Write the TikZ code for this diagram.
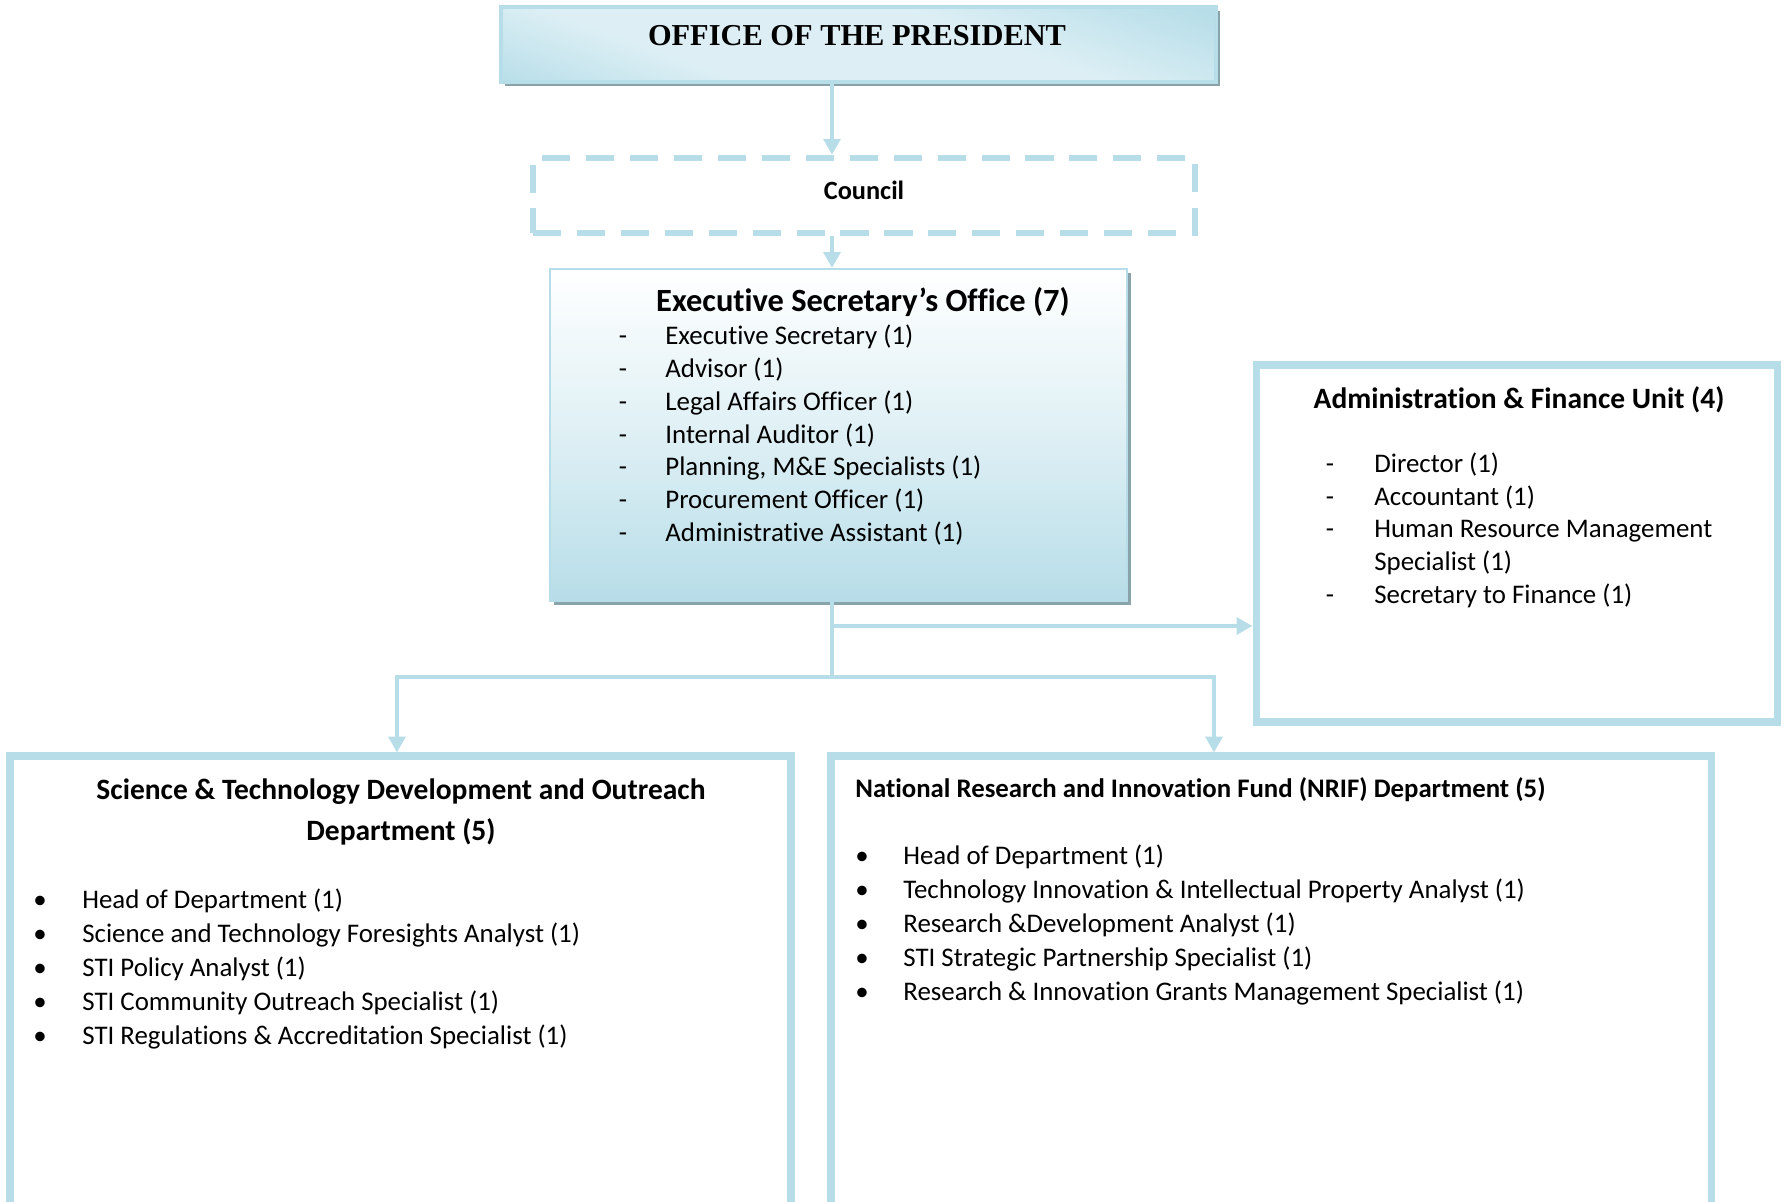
\documentclass[tikz,border=0pt]{standalone}
\usepackage{fontspec}
\setmainfont{Carlito}[Ligatures=NoCommon]
\newfontfamily\presfont{Liberation Serif}
\usetikzlibrary{arrows.meta,positioning,fit,shadows}

\definecolor{aqua}{HTML}{B7DDE8}
\definecolor{aquadark}{HTML}{92CDDC}
\definecolor{aqualight}{HTML}{DDEFF5}
\definecolor{shadowgray}{HTML}{8AA3AB}
\pgfdeclarehorizontalshading{presshade}{100bp}{color(0bp)=(aquadark); color(35bp)=(aqualight); color(60bp)=(aqualight); color(100bp)=(aquadark)}

\begin{document}
\begin{tikzpicture}
[x=0.02cm,y=-0.02cm,line join=miter,
% Styles
box/.style={inner sep=0pt,draw=aqua,line width=3.6pt},
president/.style={box,line width=1.8pt,shading=presshade,shading angle=70,
  drop shadow={shadow xshift=2pt,shadow yshift=-2.5pt,fill=shadowgray,opacity=1}},
council box/.style={box,line width=3.7pt,dash pattern=on 16pt off 9pt},
exec box/.style={box,line width=1.2pt,top color=white,bottom color=aqua,middle color=aqua!45,
  drop shadow={shadow xshift=2pt,shadow yshift=-2.5pt,fill=shadowgray,opacity=1}},
dept box/.style={box,line width=4pt,fill=white},
title/.style={inner sep=0pt,font=\bfseries\fontsize{18.45}{22}\selectfont},
item/.style={inner sep=0pt,anchor=base west,font=\fontsize{15.3}{18}\selectfont},
mark item/.style={inner sep=0pt,anchor=base,font=\fontsize{15.3}{18}\selectfont},
link/.style={draw=aqua,line width=2.7pt},
tip/.style={-{Triangle[length=9pt,width=9.5pt]}}]
\clip (0,0) rectangle (1785,1202);
% Boxes
\node[president,fit={(501,7) (1216,82)}] (pres) {};
\node[council box,fit={(533,158) (1195,233)}] (council) {};
\node[exec box,fit={(550,269) (1127,601)}] (exec) {};
\node[dept box,fit={(1256,365) (1777,722)}] (admin) {};
\node[dept box,fit={(10,756) (791,1240)}] (stdo) {};
\node[dept box,fit={(831,756) (1711,1240)}] (nrif) {};
% Titles
\node[inner sep=0pt,font=\presfont\bfseries\fontsize{17.3}{20}\selectfont] (pres title) at (857,36) {OFFICE OF THE PRESIDENT};
\node[title,font=\bfseries\fontsize{15}{18}\selectfont] (council title) at (864,190) {Council};
\node[title] (exec title) at (863,302.5) {Executive Secretary’s Office (7)};
\node[title,font=\bfseries\fontsize{16.8}{20}\selectfont] (admin title) at (1519,400) {Administration \& Finance Unit (4)};
\node[title,align=center,font=\bfseries\fontsize{16.8}{23.2}\selectfont] (stdo title) at (401,812)
  {Science \& Technology Development and Outreach\\Department (5)};
\node[title,anchor=west,font=\bfseries\fontsize{15.25}{18}\selectfont] (nrif title) at (855,790)
  {National Research and Innovation Fund (NRIF) Department (5)};
% Staff lists
\foreach \t [count=\i from 0] in {Executive Secretary (1), Advisor (1), Legal Affairs Officer (1),
  Internal Auditor (1), {Planning, M\&E Specialists (1)}, Procurement Officer (1), Administrative Assistant (1)}
{
  \node[mark item] (es mark \i) at (623,{345+32.7*\i}) {-};
  \node[item] (es \i) at (665,{345+32.7*\i}) {\t};
}
\foreach \d/\t [count=\i from 0] in {-/Director (1), -/Accountant (1), -/Human Resource Management,
  /Specialist (1), -/Secretary to Finance (1)}
{
  \node[mark item] (af mark \i) at (1330,{473+32.5*\i}) {\d};
  \node[item] (af \i) at (1374,{473+32.5*\i}) {\t};
}
\foreach \t [count=\i from 0] in {Head of Department (1), Science and Technology Foresights Analyst (1),
  STI Policy Analyst (1), STI Community Outreach Specialist (1), STI Regulations \& Accreditation Specialist (1)}
{
  \node[mark item] (st mark \i) at (40,{908+34*\i}) {•};
  \node[item] (st \i) at (82,{908+34*\i}) {\t};
}
\foreach \t [count=\i from 0] in {Head of Department (1), Technology Innovation \& Intellectual Property Analyst (1),
  Research \&Development Analyst (1), STI Strategic Partnership Specialist (1),
  Research \& Innovation Grants Management Specialist (1)}
{
  \node[mark item] (nr mark \i) at (862,{864+34.2*\i}) {•};
  \node[item] (nr \i) at (903,{864+34.2*\i}) {\t};
}
% Connectors
\coordinate (trunk) at (832,677);
\coordinate (tap) at (832,626);
\coordinate (ldrop) at (397,677);
\coordinate (rdrop) at (1214,677);
\draw[link,tip] (pres.south -| trunk) -- (council.north -| trunk);
\draw[link,tip] (council.south -| trunk) -- (exec.north -| trunk);
\draw[link] (exec.south -| trunk) -- (trunk);
\draw[link,tip] (tap) -- (tap -| admin.west);
\draw[link,{Triangle[length=9pt,width=9.5pt]}-{Triangle[length=9pt,width=9.5pt]}]
  (ldrop |- stdo.north) -- (ldrop) -- (rdrop) -- (rdrop |- nrif.north);
\end{tikzpicture}
\end{document}
